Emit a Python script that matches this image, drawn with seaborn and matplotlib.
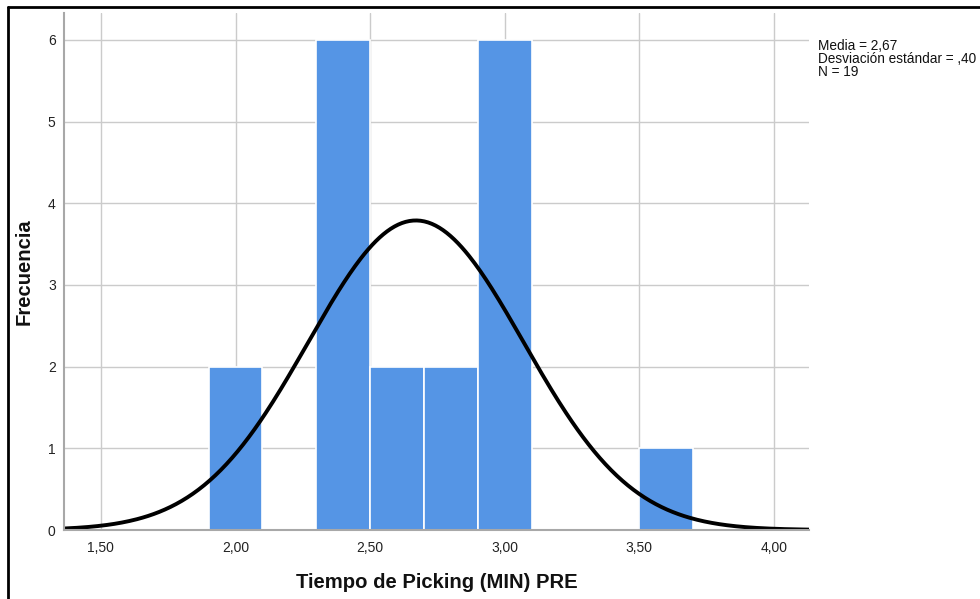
import numpy as np
import pandas as pd
import matplotlib
matplotlib.use("Agg")
import matplotlib.pyplot as plt
import seaborn as sns
from matplotlib.lines import Line2D

# ---- data ----
bin_edges = [1.9, 2.1, 2.3, 2.5, 2.7, 2.9, 3.1, 3.3, 3.5, 3.7]
bin_centers = [2.0, 2.4, 2.6, 2.8, 3.0, 3.6]
counts = [2, 6, 2, 2, 6, 1]
mean_val = 2.67
sd_val = 0.40
n_val = 19
x_ticks = [1.5, 2.0, 2.5, 3.0, 3.5, 4.0]
x_tick_labels = ["1,50", "2,00", "2,50", "3,00", "3,50", "4,00"]
y_ticks = [0, 1, 2, 3, 4, 5, 6]
stats_text = ["Media = 2,67", "Desviación estándar = ,40", "N = 19"]

sns.set_theme(style="white")
plt.rcParams['font.family'] = ['Liberation Sans', 'DejaVu Sans']

fig = plt.figure(figsize=(9.8, 5.99), dpi=100)
ax = fig.add_axes([64/980, 69/599, 745/980, 517/599])

df = pd.DataFrame({"x": bin_centers, "w": counts})
sns.histplot(data=df, x="x", weights="w", bins=bin_edges, ax=ax,
             color="#5595E5", alpha=1, edgecolor="#ffffff", linewidth=1.2, zorder=2)

# normal curve
bw = bin_edges[1] - bin_edges[0]
xs = np.linspace(1.363, 4.13, 400)
ys = n_val * bw / (sd_val * np.sqrt(2 * np.pi)) * np.exp(-0.5 * ((xs - mean_val) / sd_val) ** 2)
sns.lineplot(x=xs, y=ys, ax=ax, color="black", linewidth=2.8, zorder=3)

ax.set_xlim(1.363, 4.13)
ax.set_ylim(0, 6.33)
ax.set_xticks(x_ticks)
ax.set_xticklabels(x_tick_labels)
ax.set_yticks(y_ticks)
ax.tick_params(axis='both', length=0, labelsize=10, labelcolor="#222222", pad=6)
ax.tick_params(axis='x', pad=8)
ax.grid(True, color="#cbcbcb", linewidth=1.0, zorder=0)
ax.set_axisbelow(True)
for s in ["top", "right"]:
    ax.spines[s].set_visible(False)
for s in ["left", "bottom"]:
    ax.spines[s].set_color("#a8a8a8")
    ax.spines[s].set_linewidth(1.5)
    ax.spines[s].set_zorder(4)

ax.set_xlabel("Tiempo de Picking (MIN) PRE", fontsize=14.6, fontweight="bold", labelpad=13, color="#111111")
ax.set_ylabel("Frecuencia", fontsize=14.6, fontweight="bold", labelpad=10, color="#111111")

fig.text(818/980, 1 - 39/599, "\n".join(stats_text), fontsize=9.8, va="top", ha="left",
         linespacing=0.92, color="#111111")

# outer black frame
fig.add_artist(Line2D([7.5/980, 1.0], [1 - 7/599, 1 - 7/599], transform=fig.transFigure, color="black", linewidth=2))
fig.add_artist(Line2D([7.5/980, 7.5/980], [0.0, 1 - 7/599], transform=fig.transFigure, color="black", linewidth=2))

fig.savefig("out.png", dpi=100)
